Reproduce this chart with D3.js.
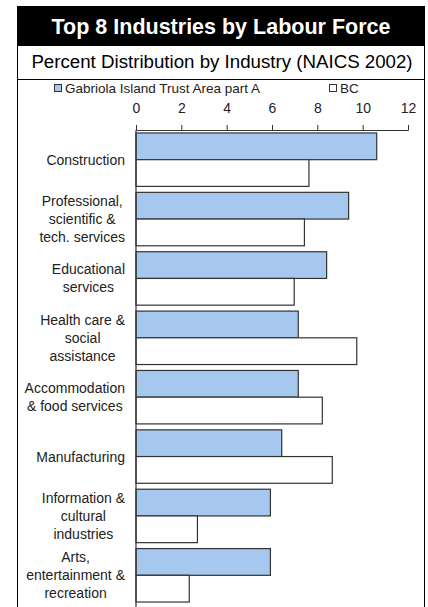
<!DOCTYPE html>
<html><head><meta charset="utf-8">
<script src="https://cdn.jsdelivr.net/npm/d3@7"></script>
<style>
html,body{margin:0;padding:0;background:#fff;}
svg{display:block;font-family:"Liberation Sans",Arial,sans-serif;}
</style></head>
<body>
<svg id="chart" width="428" height="607"></svg>
<script>
const categories = [
  ["Construction"],
  ["Professional,", "scientific &", "tech. services"],
  ["Educational", "services"],
  ["Health care &", "social", "assistance"],
  ["Accommodation", "& food services"],
  ["Manufacturing"],
  ["Information &", "cultural", "industries"],
  ["Arts,", "entertainment &", "recreation"]
];
const seriesNames = ["Gabriola Island Trust Area part A", "BC"];
const gabriola = [10.62, 9.38, 8.41, 7.16, 7.16, 6.43, 5.93, 5.93];
const bc = [7.63, 7.43, 6.98, 9.74, 8.22, 8.66, 2.71, 2.35];
const tickValues = [0, 2, 4, 6, 8, 10, 12];
const titleText = "Top 8 Industries by Labour Force";
const subtitleText = "Percent Distribution by Industry (NAICS 2002)";

const colors = ["#A6C8EE", "#FFFFFF"];
const svg = d3.select("#chart");

// title band
svg.append("rect").attr("x", 17).attr("y", 6).attr("width", 408).attr("height", 39).attr("fill", "#000");
svg.append("text").attr("x", 221).attr("y", 34).attr("text-anchor", "middle")
  .attr("fill", "#fff").attr("font-weight", "bold").attr("font-size", 21.5).text(titleText);

// subtitle box
svg.append("rect").attr("x", 17.5).attr("y", 45.5).attr("width", 407).attr("height", 34)
  .attr("fill", "#fff").attr("stroke", "#000").attr("stroke-width", 1);
svg.append("text").attr("x", 222).attr("y", 68).attr("text-anchor", "middle")
  .attr("fill", "#000").attr("font-size", 18.7).text(subtitleText);

// chart box
svg.append("rect").attr("x", 17.5).attr("y", 79.5).attr("width", 407).attr("height", 560)
  .attr("fill", "#fff").attr("stroke", "#000").attr("stroke-width", 1);

// legend
const legend = [
  {name: seriesNames[0], color: colors[0], x: 54},
  {name: seriesNames[1], color: colors[1], x: 329}
];
legend.forEach(l => {
  svg.append("rect").attr("x", l.x + 0.5).attr("y", 84.5).attr("width", 7).attr("height", 7)
    .attr("fill", l.color).attr("stroke", "#333");
  svg.append("text").attr("x", l.x + 11).attr("y", 93).attr("font-size", 13.5).attr("fill", "#222").text(l.name);
});

const x = d3.scaleLinear().domain([0, 12]).range([136, 408]);
const y = d3.scaleBand().domain(d3.range(categories.length)).range([130, 605])
  .paddingInner(0.1).paddingOuter(0.05);
const ySub = d3.scaleBand().domain([0, 1]).range([0, y.bandwidth()]);

// axis
const axis = d3.axisTop(x).tickValues(tickValues).tickSize(5).tickSizeOuter(5).tickPadding(12)
  .tickFormat(d3.format("d"));
const ag = svg.append("g").attr("transform", "translate(0,130)").call(axis);
ag.select(".domain").attr("stroke", "#333");
ag.selectAll(".tick line").attr("stroke", "#333");
ag.selectAll(".tick text").attr("font-size", 14).attr("fill", "#222")
  .attr("font-family", "'Liberation Sans',Arial,sans-serif");

// bars
const series = [gabriola, bc];
series.forEach((vals, si) => {
  svg.append("g").selectAll("rect").data(vals).join("rect")
    .attr("x", x(0))
    .attr("y", (d, i) => y(i) + ySub(si))
    .attr("width", d => x(d) - x(0))
    .attr("height", ySub.bandwidth())
    .attr("fill", colors[si])
    .attr("stroke", "#333").attr("stroke-width", 1.2);
});

// y axis line
svg.append("line").attr("x1", x(0)).attr("x2", x(0)).attr("y1", 130).attr("y2", 607)
  .attr("stroke", "#333").attr("stroke-width", 1.2);

// category labels
const lineH = 18;
categories.forEach((lines, i) => {
  const cy = y(i) + y.bandwidth() / 2;
  const g = svg.append("g");
  const t = g.append("text").attr("font-size", 14).attr("fill", "#222").attr("text-anchor", "middle");
  const n = lines.length;
  lines.forEach((ln, j) => {
    t.append("tspan").attr("x", 0).attr("y", cy + (j - (n - 1) / 2) * lineH + 5).text(ln);
  });
  let maxW = 0;
  t.selectAll("tspan").each(function() { maxW = Math.max(maxW, this.getComputedTextLength()); });
  g.attr("transform", `translate(${125 - maxW / 2},0)`);
});
</script>
</body></html>
